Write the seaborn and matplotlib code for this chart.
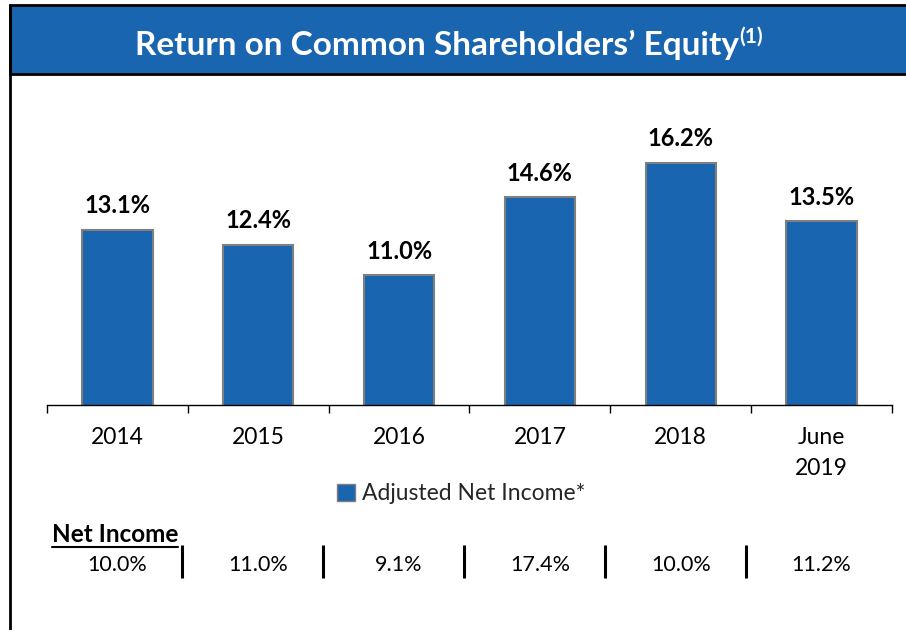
import matplotlib
matplotlib.use("Agg")
import matplotlib.pyplot as plt
import seaborn as sns
import pandas as pd
from matplotlib.patches import Patch, Rectangle
from matplotlib.lines import Line2D

# chart data
categories = ["2014", "2015", "2016", "2017", "2018", "June\n2019"]
adjusted_roe = [13.1, 12.4, 11.0, 14.6, 16.2, 13.5]
net_income_roe = [10.0, 11.0, 9.1, 17.4, 10.0, 11.2]

title = "Return on Common Shareholders’ Equity"
title_note = "(1)"
legend_label = "Adjusted Net Income*"
table_label = "Net Income"

BLUE = "#1A65AF"
W, H = 906, 630

sns.set_theme(style="white")
plt.rcParams["font.family"] = ["Lato", "DejaVu Sans"]

df = pd.DataFrame({"Period": categories, "ROE": adjusted_roe})

fig = plt.figure(figsize=(W / 100, H / 100), dpi=100)
ax = fig.add_axes([47 / W, 1 - 405 / H, (892 - 47) / W, (405 - 102) / H])

sns.barplot(data=df, x="Period", y="ROE", color=BLUE, width=0.5,
            edgecolor="#7F7F7F", linewidth=1.5, saturation=1, ax=ax)
ax.set_ylim(5, 19)
ax.set_xlim(-0.5, len(categories) - 0.5)
ax.bar_label(ax.containers[0], labels=[f"{v:.1f}%" for v in adjusted_roe],
             padding=9, fontsize=17, fontweight="bold", color="black")

for s in ["top", "right", "left"]:
    ax.spines[s].set_visible(False)
ax.spines["bottom"].set_color("black")
ax.spines["bottom"].set_linewidth(1)
ax.set_yticks([])
ax.set_xlabel("")
ax.set_ylabel("")
ax.set_xticks(range(len(categories)))
ax.set_xticklabels(categories, fontsize=16.5, color="black", linespacing=1.6)
ax.set_xticks([i - 0.5 for i in range(len(categories) + 1)], minor=True)
ax.tick_params(axis="x", which="major", length=0, pad=16)
ax.tick_params(axis="x", which="minor", length=6, width=1, color="black",
               direction="out", bottom=True)

# legend
handle = Patch(facecolor=BLUE, edgecolor="#7F7F7F", linewidth=1)
fig.legend(handles=[handle], labels=[legend_label], loc="center",
           bbox_to_anchor=(461 / W, 1 - 494 / H), frameon=False, fontsize=16.5,
           handlelength=0.8, handleheight=0.8, handletextpad=0.3)

# net income table under the chart
xt = ax.get_xaxis_transform()
ax_h = 405 - 102
for i, v in enumerate(net_income_roe):
    ax.text(i, -(565 - 405) / ax_h, f"{v:.1f}%", transform=xt, ha="center",
            va="center", fontsize=15.5, color="black", clip_on=False)
for i in range(len(categories) - 1):
    ax.plot([i + 0.46, i + 0.46], [-(545 - 405) / ax_h, -(578 - 405) / ax_h],
            transform=xt, color="black", linewidth=2.2, clip_on=False,
            solid_capstyle="butt")

lbl = fig.text(52 / W, 1 - 535 / H, table_label, ha="left", va="center",
               fontsize=17.5, fontweight="bold", color="black")

# title band and frame
fig.patches.append(Rectangle((10 / W, 1 - 74 / H), 1, 69 / H,
                             transform=fig.transFigure, facecolor=BLUE,
                             edgecolor="black", linewidth=2, zorder=0))
fig.lines.append(Line2D([10 / W, 10 / W], [0, 1 - 5 / H],
                        transform=fig.transFigure, color="black", linewidth=2))
t = fig.text(135 / W, 1 - 45 / H, title, ha="left", va="center",
             fontsize=24, fontweight="bold", color="white")

fig.canvas.draw()
r = fig.canvas.get_renderer()
tb = t.get_window_extent(r)
fig.text(tb.x1 / W, tb.y1 / H - 7 / H, title_note, ha="left",
         va="center", fontsize=15, fontweight="bold", color="white")
lb = lbl.get_window_extent(r)
fig.lines.append(Line2D([lb.x0 / W, lb.x1 / W], [lb.y0 / H, lb.y0 / H],
                        transform=fig.transFigure, color="black", linewidth=1.5))

fig.savefig("out.png", dpi=100)
